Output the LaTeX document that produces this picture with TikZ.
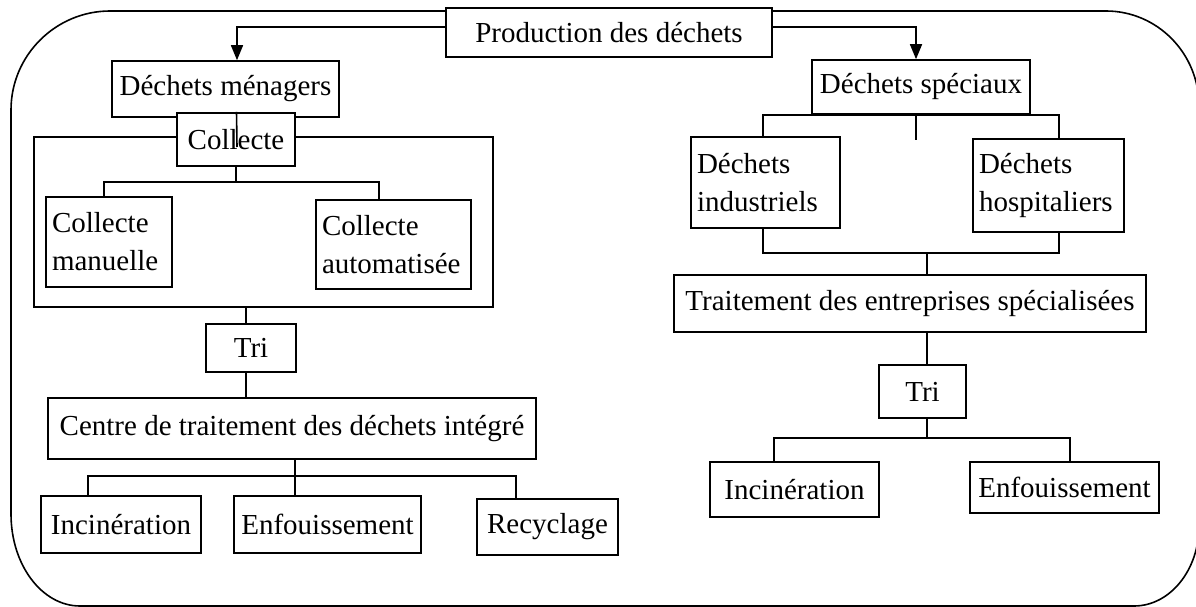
\documentclass[tikz,border=0pt]{standalone}
\usepackage{fontspec}
\setmainfont{Liberation Serif}
\usetikzlibrary{arrows.meta,calc}

\begin{document}
\begin{tikzpicture}[
      x=1pt, y=-1pt,
      boite/.style = {
        draw,
        fill=white,
        line width=1.6pt,
        inner sep=0pt,
        font=\fontsize{29}{38}\selectfont
      },
      bloc/.style = {
        boite,
        align=left,
        inner xsep=6pt
      },
      lien/.style = {
        line width=1.6pt
      },
      fleche/.style = {
        lien,
        -{Triangle[length=15pt,width=12pt]}
      }
    ]
    \useasboundingbox (0,0) rectangle (1196,607);

    \draw[lien] (11,514) -- (11,110) .. controls (11,55) and (56,11) .. (110,11)
      -- (1106,11) .. controls (1157,11) and (1199,53) .. (1199,106)
      -- (1199,526) .. controls (1199,570) and (1170,606) .. (1134,606)
      -- (80,606) .. controls (42,606) and (11,565) .. (11,514) -- cycle;

    \node[boite, minimum width=326pt, minimum height=49pt] (prod) at (609,32.5) {Production des déchets};

    \node[boite, minimum width=227pt, minimum height=56pt] (menag) at (225.5,89) {Déchets ménagers};
    \node[boite, minimum width=459pt, minimum height=170pt] (cadre) at (263.5,222) {};
    \node[boite, minimum width=118pt, minimum height=53pt] (collecte) at (236,139.5) {Collecte};
    \node[bloc, text width=114pt, minimum height=90pt] (manuelle) at (109,242) {Collecte\\manuelle};
    \node[bloc, text width=143pt, minimum height=89pt] (automat) at (393.5,244.5) {Collecte\\automatisée};
    \node[boite, minimum width=90pt, minimum height=48pt] (tri1) at (251,348) {Tri};
    \node[boite, minimum width=488pt, minimum height=61pt] (centre) at (292,428.5) {Centre de traitement des déchets intégré};
    \node[boite, minimum width=160pt, minimum height=57pt] (inc1) at (121,524.5) {Incinération};
    \node[boite, minimum width=187pt, minimum height=57pt] (enf1) at (327.5,524.5) {Enfouissement};
    \node[boite, minimum width=141pt, minimum height=56pt] (recyc) at (547.5,527) {Recyclage};

    \node[boite, minimum width=218pt, minimum height=54pt] (spec) at (921,87) {Déchets spéciaux};
    \node[bloc, text width=137pt, minimum height=91pt] (indus) at (765.5,182.5) {Déchets\\industriels};
    \node[bloc, text width=139pt, minimum height=93pt] (hosp) at (1048.5,185.5) {Déchets\\hospitaliers};
    \node[boite, minimum width=472pt, minimum height=57pt] (trait) at (910,303.5) {Traitement des entreprises spécialisées};
    \node[boite, minimum width=87pt, minimum height=53pt] (tri2) at (922.5,391.5) {Tri};
    \node[boite, minimum width=169pt, minimum height=55pt] (inc2) at (794.5,489.5) {Incinération};
    \node[boite, minimum width=189pt, minimum height=51pt] (enf2) at (1064.5,487.5) {Enfouissement};

    \draw[fleche] ([yshift=5.5pt]prod.west) -| ([xshift=11.5pt]menag.north);
    \draw[fleche] ([yshift=5.5pt]prod.east) -| ([xshift=-5pt]spec.north);

    \draw[lien] ([xshift=11pt,yshift=6pt]menag.south) -- ([xshift=1pt,yshift=-7.5pt]collecte.center);
    \draw[lien] (collecte.south) -- ++(0,15) coordinate (b1);
    \draw[lien] ([xshift=-5pt]manuelle.north) |- (b1) -| ([xshift=-14.5pt]automat.north);
    \draw[lien] ([xshift=-17.5pt]cadre.south) -- ([xshift=-5pt]tri1.north);
    \draw[lien] ([xshift=-5pt]tri1.south) -- ([xshift=-46pt]centre.north);
    \draw[lien] ([xshift=3pt]centre.south) -- ++(0,16) coordinate (b2);
    \draw[lien] ([xshift=-33pt]inc1.north) |- (b2) -| ([xshift=-31.5pt]recyc.north);
    \draw[lien] (b2) -- ([xshift=-32.5pt]enf1.north);

    \draw[lien] ([xshift=-2.5pt]indus.north) |- (spec.south) -| ([xshift=10.5pt]hosp.north);
    \draw[lien] ([xshift=-5pt]spec.south) -- ++(0,25);
    \draw[lien] ([xshift=17pt]trait.north) -- ++(0,-21) coordinate (b3);
    \draw[lien] ([xshift=-2.5pt]indus.south) |- (b3) -| ([xshift=10.5pt]hosp.south);
    \draw[lien] ([xshift=17pt]trait.south) -- ([xshift=4.5pt]tri2.north);
    \draw[lien] ([xshift=4.5pt]tri2.south) -- ++(0,19) coordinate (b4);
    \draw[lien] ([xshift=-20.5pt]inc2.north) |- (b4) -| ([xshift=5.5pt]enf2.north);
  \end{tikzpicture}
\end{document}
